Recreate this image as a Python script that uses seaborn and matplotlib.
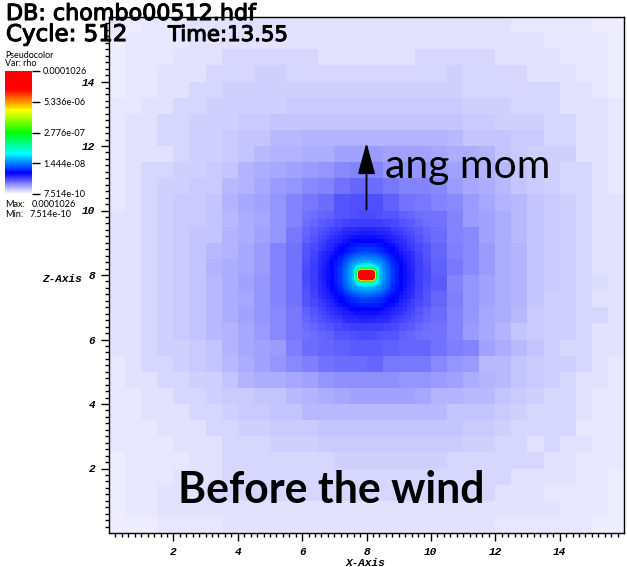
import numpy as np
import seaborn as sns
import matplotlib
matplotlib.use('Agg')
import matplotlib.pyplot as plt
import matplotlib.patheffects as pe
from matplotlib.colors import LinearSegmentedColormap, LogNorm

# rho in units of 1e-10. Row 0 is the top of the plot.
# level 0: whole domain, 0.5 wide cells
coarse_rho = [
    [9.3, 8.7, 9.3, 9.3, 9.3] + [9.8]*11 + [9.8]*9 + [9.3]*5 + [8.7, 8.7],
    [8.7, 9.3, 9.3, 9.3, 9.3] + [9.8]*11 + [9.8]*11 + [9.3]*4 + [8.7],
    [8.7, 9.3, 9.3, 9.3, 9.8, 9.8, 9.8] + [10.4]*6 + [9.8]*3 + [9.8]*3 + [10.4]*5 + [9.8]*4 + [9.3]*3 + [8.7],
    [8.7, 9.3, 9.3, 9.8, 9.8, 9.8, 10.4, 10.4, 10.4, 11, 11] + [10.4]*5 + [10.4]*5 + [11] + [10.4]*4 + [9.8]*3 + [9.3]*2 + [8.7],
    [8.7, 9.3, 9.3, 9.8, 9.8, 10.4, 10.4] + [11]*9 + [11]*6 + [10.4]*6 + [9.8]*2 + [9.3, 8.7],
    [9.3, 9.3, 9.8, 9.8, 10.4, 10.4, 11, 11, 11, 11, 11] + [11.7]*5 + [11.7]*6 + [11]*3 + [10.4]*3 + [9.8]*3 + [9.3],
    [9.3, 9.8, 9.8, 10.4, 10.4, 11, 11, 11, 11.7, 11.7] + [12.4]*6 + [12.4]*6 + [11.7]*2 + [11]*3 + [10.4]*2 + [9.8]*2 + [9.3],
    [9.3, 9.8, 9.8, 10.4, 10.4, 11, 11, 11.7, 12.4, 12.4, 13.1, 13.1, 14, 14, 14, 14, 14, 14, 14, 14, 14, 13.1, 12.4, 12.4, 12.4, 11.7, 11.7, 10.4, 10.4, 9.8, 9.8, 9.3],
    [9.3, 9.8, 9.8, 9.8, 10.4, 11, 11, 11.7, 12.4, 13.1, 14, 14, 14.8, 14.8, 16.4, 16.4, 17.2, 16.4, 16.4, 16.4, 15.6, 14.8, 14.8, 14, 12.4, 11.7, 11, 11, 11, 9.8, 9.8, 9.3],
    [9.3, 9.8, 10.4, 10.4, 11, 11, 11.7, 12.4, 14, 14.8, 15.6, 16.4, 17.2, 18, 19, 20.6, 20.6, 18, 18, 18, 17.2, 16.4, 15.6, 14, 13.1, 12.4, 11.7, 11, 10.4, 10.4, 9.8, 9.3],
    [9.3, 9.8, 10.4, 11, 11, 11.7, 11.7, 13.1, 14, 15.6, 17.2, 18, 19, 20.6, 22.8, 25.5, 24.7, 22, 20.6, 20, 19, 17.2, 15.6, 14.8, 13.1, 12.4, 11.7, 11, 10.4, 10.4, 9.8, 9.3],
    [9.3, 9.8, 10.4, 11, 11.7, 11.7, 12.4, 14, 15.6, 16.4, 18, 20, 22, 24.7, 29, 31, 31, 27, 23.5, 22, 20.6, 19, 17.2, 15.6, 14, 13.1, 12.4, 11.7, 11, 10.4, 9.8, 9.8],
    [9.8, 9.8, 10.4, 11, 11.7, 11.7, 12.4, 13.1, 14.8, 15.6, 18, 20.6] + [30]*8 + [22.8, 20, 17.2, 16.4, 14.8, 13.1, 12.4, 11.7, 11, 10.4, 9.8, 9.8],
    [9.8, 9.8, 10.4, 11, 11.7, 12.4, 12.4, 14, 14.8, 16.4, 18, 22] + [30]*8 + [24.7, 20.6, 19, 16.4, 14.8, 13.1, 12.4, 11.7, 11, 10.4, 9.8, 9.8],
    [9.8, 9.8, 10.4, 11, 11.7, 12.4, 13.1, 14, 15.6, 17.2, 20, 23.5] + [30]*8 + [25.5, 21.3, 19, 17.2, 14.8, 14, 12.4, 11.7, 11, 10.4, 9.8, 9.8],
    [9.8, 9.8, 10.4, 11, 11.7, 12.4, 14, 14.8, 15.6, 17.2, 20.6, 23.5] + [30]*8 + [27, 22, 19, 17.2, 14.8, 14, 12.4, 11.7, 11, 10.4, 9.8, 9.8],
    [9.8, 9.8, 10.4, 11, 11.7, 12.4, 13.1, 14.8, 16.4, 18, 20, 23.5] + [30]*8 + [28, 20.6, 18, 16.4, 14.8, 14, 12.4, 11.7, 11, 10.4, 10, 9.8],
    [9.8, 9.8, 10.4, 11, 11.7, 12.4, 13.1, 14.8, 15.6, 18, 20, 23.5] + [30]*8 + [25.5, 21.3, 18, 16.4, 14.8, 14, 12.4, 11, 11, 10.4, 9.8, 9.8],
    [9.8, 9.8, 10.4, 11, 11.7, 12.4, 13.1, 14.8, 16.4, 18, 19, 22] + [30]*8 + [24, 20.6, 18, 15.6, 14.8, 13.1, 11.7, 11, 11, 10.4, 10.4, 9.8],
    [9.8, 9.8, 10.4, 11, 11.7, 12.4, 13.1, 14, 15.6, 17.2, 19, 22] + [30]*8 + [23.5, 20, 17.2, 15.6, 14, 12.4, 11.7, 11, 11, 10.4, 9.8, 9.8],
    [9.8, 9.8, 10.4, 11, 11, 11.7, 12.4, 14, 15.6, 16.4, 17.2, 21.3, 24, 25, 27, 28, 28, 27, 26, 25, 23.5, 21.3, 20, 16.4, 14.8, 13.1, 12.4, 11, 10.4, 10.4, 9.8, 9.8],
    [9.3, 9.8, 10.4, 10.4, 11, 11.7, 12.4, 13.1, 14.8, 16.4, 18, 19, 21, 23, 24, 24, 25, 22, 22, 22, 19, 18, 17.2, 13.1, 13.1, 12.4, 11.7, 11, 11, 10.4, 9.8, 9.3],
    [9.3, 9.8, 9.8, 10.4, 10.4, 11, 11, 12.4, 14, 14.8, 14.8, 15.6, 16.4, 18, 18.6, 18.6, 18.6, 18.6, 17.5, 17.5, 17.2, 16.4, 14.8, 14, 13.1, 12.4, 11.7, 11, 10.4, 9.8, 9.8, 9.3],
    [9.3, 9.3, 9.8, 9.8, 10.4, 10.4, 11, 11.7, 11.7, 12.4, 12.4, 13.1, 14, 14.8, 15.6, 16.4, 16.4, 16.4, 16.4, 15.6, 14, 14, 13.1, 13.1, 12.4, 11.7, 11, 10.4, 10.4, 9.8, 9.3, 9.3],
    [9.3, 9.3, 9.8, 9.8, 9.8, 10.4, 10.4, 11, 11.7, 11.7, 12.4, 12.4] + [13.1]*4 + [13.1]*5 + [12.4]*3 + [11.7, 11] + [10.4]*3 + [9.8, 9.3, 9.3],
    [9.3]*3 + [9.8]*3 + [10.4, 10.4, 11, 11, 11.7, 11.7, 11.7, 12.4, 12.4, 12.4] + [12.4]*6 + [11.7, 11.7, 11] + [10.4]*4 + [9.3]*3,
    [9.3]*4 + [9.8]*3 + [10.4]*3 + [11]*3 + [11.7]*3 + [11.7]*6 + [11, 11, 10.4, 10.4, 9.8, 10.4, 9.8, 9.8, 9.3, 9.3],
    [8.7] + [9.3]*4 + [9.8, 9.8] + [10.4]*7 + [11, 11] + [11]*5 + [10.4]*6 + [9.8, 9.8] + [9.3]*3,
    [8.7] + [9.3]*3 + [9.8]*3 + [10.4]*9 + [10.4]*9 + [9.8]*4 + [9.3, 9.3, 8.7],
    [8.7, 9.3, 9.3] + [9.8]*3 + [10.4]*10 + [10.4]*8 + [9.8]*3 + [9.3]*4 + [8.7],
    [8.7, 9.3, 9.3] + [9.8]*13 + [9.8]*12 + [9.3]*3 + [8.7],
    [8.7]*3 + [9.3]*4 + [9.8]*9 + [9.8]*8 + [9.3]*6 + [8.7, 8.7],
]

# refined levels around the centre, one quadrant each: rows go out from the
# centre in z, columns go out from the centre in x
# level 1: 0.25 wide cells, 6..10
quad_025 = [
    [30, 30, 30, 30, 30, 30, 36, 32],
    [30, 30, 30, 30, 30, 30, 36, 31],
    [30, 30, 30, 30, 30, 30, 34, 30],
    [30, 30, 30, 30, 30, 30, 32, 29],
    [30, 30, 30, 30, 30, 30, 30, 27],
    [30, 30, 30, 30, 30, 30, 28, 26],
    [36, 36, 34, 32, 30, 28, 26, 24],
    [32, 31, 30, 29, 27, 26, 24, 23],
]
# level 2: 0.125 wide cells, 6.5..9.5
quad_0125 = [
    [100, 100, 100, 100, 100, 100, 85, 72, 60, 52, 46, 42],
    [100, 100, 100, 100, 100, 100, 83, 70, 59, 51, 46, 42],
    [100, 100, 100, 100, 100, 100, 78, 68, 58, 50, 45, 41],
    [100, 100, 100, 100, 100, 100, 74, 63, 55, 49, 44, 41],
    [100, 100, 100, 100, 100, 100, 68, 58, 52, 46, 43, 40],
    [100, 100, 100, 100, 100, 100, 60, 54, 49, 44, 42, 38],
    [85, 83, 78, 74, 68, 60, 55, 50, 45, 42, 38, 36],
    [72, 70, 68, 63, 58, 54, 50, 46, 43, 40, 37, 35],
    [60, 59, 58, 55, 52, 49, 45, 43, 40, 38, 36, 34],
    [52, 51, 50, 49, 46, 44, 42, 40, 38, 36, 34, 32],
    [46, 46, 45, 44, 43, 42, 38, 37, 36, 34, 32, 31],
    [42, 42, 41, 41, 40, 38, 36, 35, 34, 32, 31, 29],
]
# level 3: 2 px cells
quad_2px = [
    [290, 290, 290, 290, 290, 290, 240, 200, 170, 145, 125, 110],
    [290, 290, 290, 290, 290, 290, 235, 198, 168, 143, 124, 108],
    [290, 290, 290, 290, 290, 290, 225, 192, 165, 140, 122, 106],
    [280, 280, 280, 280, 280, 280, 215, 185, 158, 135, 118, 103],
    [270, 270, 270, 270, 270, 270, 200, 175, 150, 130, 113, 100],
    [240, 240, 235, 230, 225, 215, 185, 162, 140, 122, 108, 96],
    [215, 210, 205, 200, 190, 180, 165, 148, 130, 115, 103, 92],
    [185, 182, 178, 172, 165, 155, 145, 130, 118, 105, 95, 85],
    [155, 153, 150, 146, 140, 133, 125, 115, 105, 95, 87, 79],
    [132, 130, 128, 125, 120, 115, 108, 100, 93, 85, 78, 72],
    [112, 110, 108, 106, 103, 98, 93, 87, 81, 75, 70, 65],
    [96, 95, 93, 91, 88, 85, 81, 76, 71, 67, 63, 59],
]
# level 4: the core, 1 px cells
quad_1px = [
    [300000]*8 + [30000, 3000, 600, 400],
    [300000]*8 + [30000, 3000, 600, 400],
    [300000]*8 + [25000, 3000, 600, 400],
    [300000]*7 + [120000, 15000, 2500, 550, 400],
    [300000]*6 + [90000, 20000, 3000, 800, 480, 370],
    [40000]*5 + [25000, 9000, 2800, 800, 500, 400, 340],
    [4000]*5 + [3000, 1500, 700, 500, 400, 340, 300],
    [800]*5 + [700, 600, 500, 420, 360, 310, 270],
    [500]*5 + [470, 440, 400, 360, 320, 290, 260],
    [400, 400, 400, 390, 380, 360, 340, 320, 300, 270, 250, 225],
    [340, 340, 330, 320, 310, 300, 290, 270, 250, 230, 215, 195],
    [290, 290, 280, 280, 270, 260, 250, 235, 220, 205, 190, 175],
]

rho_min = 7.514e-10
rho_max = 0.0001026
legend_ticks = [0.0001026, 5.336e-06, 2.776e-07, 1.444e-08, 7.514e-10]
legend_labels = ['0.0001026', '5.336e-06', '2.776e-07', '1.444e-08', '7.514e-10']
major_ticks = [2, 4, 6, 8, 10, 12, 14]

W, H = 627, 567
CELLS = 512  # finest grid, 1 cell is 1/32 of a unit


def px(x, y):
    return x / W, 1 - y / H


def mirror(q):
    q = np.array(q, dtype=float)
    return np.block([[q[::-1, ::-1], q[::-1]], [q[:, ::-1], q]])


def paste(grid, quad, step):
    full = np.repeat(np.repeat(mirror(quad), step, axis=0), step, axis=1)
    n = full.shape[0] // 2
    c = CELLS // 2
    grid[c - n:c + n, c - n:c + n] = full


grid = np.repeat(np.repeat(np.array(coarse_rho, dtype=float), 16, axis=0), 16, axis=1)
paste(grid, quad_025, 8)
paste(grid, quad_0125, 4)
paste(grid, quad_2px, 2)
paste(grid, quad_1px, 1)
grid = grid * 1e-10

cmap = LinearSegmentedColormap.from_list('visit_hot', [
    (0, (1, 1, 1)), (0.17, (0, 0, 1)), (0.33, (0, 1, 1)), (0.5, (0, 1, 0)),
    (0.68, (1, 1, 0)), (0.85, (1, 0, 0)), (1, (1, 0, 0))], N=256)

plt.rcParams['font.family'] = ['Lato', 'DejaVu Sans']
fig = plt.figure(figsize=(W / 100, H / 100), dpi=100)
ax = fig.add_axes([109 / W, (H - 533) / H, 515 / W, 516 / H])
cax = fig.add_axes([5 / W, (H - 194) / H, 27 / W, 123 / H])

sns.heatmap(grid, ax=ax, cbar_ax=cax, cmap=cmap, norm=LogNorm(vmin=rho_min, vmax=rho_max),
            xticklabels=False, yticklabels=False)

tick_font = dict(family='Liberation Mono', weight='bold', style='italic', size=8)
ax.set_xticks([v * 32 for v in major_ticks])
ax.set_xticklabels([str(v) for v in major_ticks], **tick_font)
ax.set_yticks([(16 - v) * 32 for v in major_ticks])
ax.set_yticklabels([str(v) for v in major_ticks], rotation=0, **tick_font)
minor = np.arange(0.2, 16, 0.2)
ax.set_xticks(minor * 32, minor=True)
ax.set_yticks((16 - minor) * 32, minor=True)
ax.tick_params(which='major', direction='out', length=6, width=1, color='black', pad=4)
ax.tick_params(which='minor', direction='out', length=3, width=1, color='black')
for s in ax.spines.values():
    s.set_visible(True)
    s.set_linewidth(1)
    s.set_color('black')

cb = ax.collections[0].colorbar
cb.set_ticks(legend_ticks)
cb.set_ticklabels(legend_labels)
cb.ax.minorticks_off()
cb.ax.tick_params(length=6, width=1, color='black', labelsize=6.6, pad=2)
cb.outline.set_visible(False)

# arrow, x=8 from z=10 to z=12.1
ax.annotate('', xy=(8 * 32, (16 - 12.1) * 32), xytext=(8 * 32, (16 - 10.03) * 32),
            arrowprops=dict(arrowstyle='-|>,head_length=1.3,head_width=0.36', color='black',
                            lw=1.3, shrinkA=0, shrinkB=0, mutation_scale=15))

head = dict(family='DejaVu Sans', color='black',
            path_effects=[pe.withStroke(linewidth=0.8, foreground='black')])
fig.text(*px(6, 20), 'DB: chombo00512.hdf', fontsize=16, **head)
fig.text(*px(6, 41), 'Cycle: 512', fontsize=16.5, **head)
fig.text(*px(168, 41), 'Time:13.55', fontsize=15.3, **head)
fig.text(*px(5, 58), 'Pseudocolor', fontsize=6.4)
fig.text(*px(5, 66), 'Var: rho', fontsize=6.4)
fig.text(*px(5, 207), 'Max:', fontsize=6.6)
fig.text(*px(32, 207), '0.0001026', fontsize=6.6)
fig.text(*px(5, 217), 'Min:', fontsize=6.6)
fig.text(*px(29, 217), '7.514e-10', fontsize=6.6)
fig.text(*px(385, 178), 'ang mom', fontsize=29.5, color='black')
fig.text(*px(178, 503), 'Before the wind', fontsize=30.8, color='black', fontweight='bold')
fig.text(*px(346, 566), 'X-Axis', **tick_font)
fig.text(*px(42, 282), 'Z-Axis', **tick_font)

fig.savefig('out.png', dpi=100)
